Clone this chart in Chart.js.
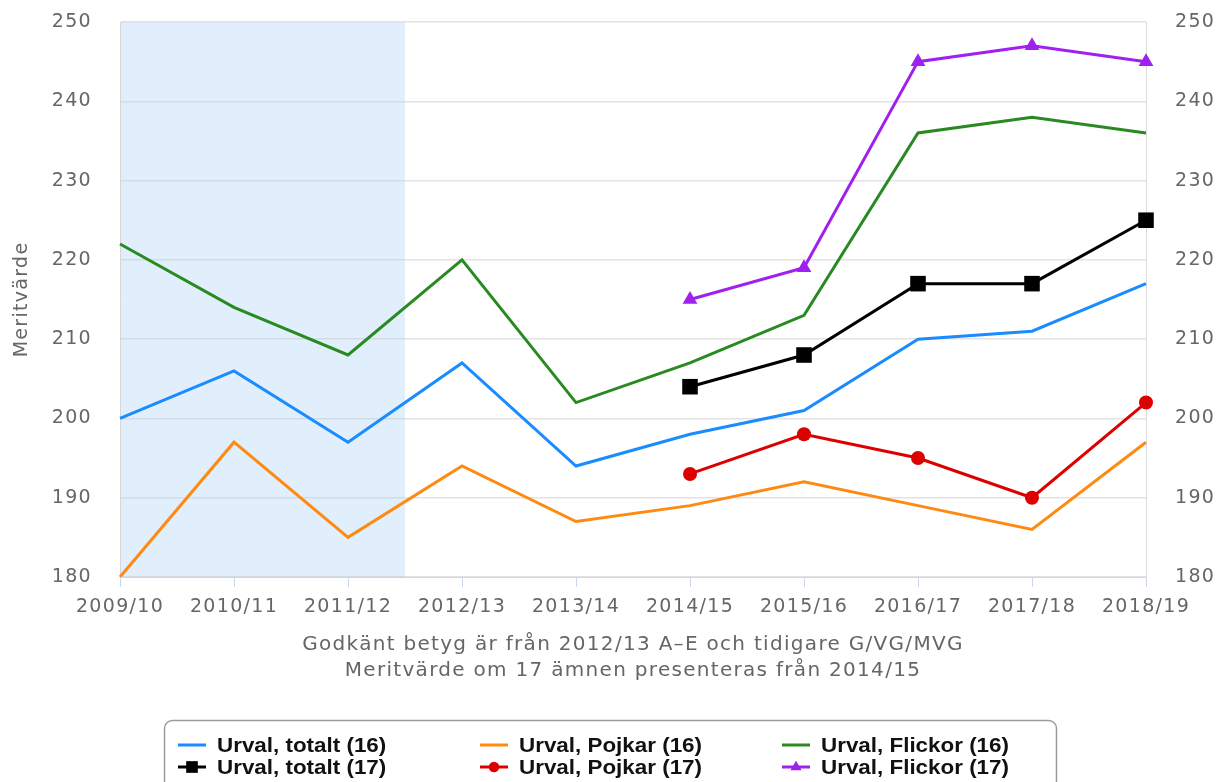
<!DOCTYPE html>
<html>
<head>
<meta charset="utf-8">
<script src="https://cdn.jsdelivr.net/npm/chart.js@4"></script>
<style>
html, body { margin: 0; padding: 0; background: #fff; }
#wrap { width: 1216px; height: 782px; overflow: hidden; }
</style>
</head>
<body>
<div id="wrap"><canvas id="meritChart" width="1216" height="782"></canvas></div>
<script>
// data
const years = ['2009/10', '2010/11', '2011/12', '2012/13', '2013/14', '2014/15', '2015/16', '2016/17', '2017/18', '2018/19'];
const totalt16 = [200, 206, 197, 207, 194, 198, 201, 210, 211, 217];
const pojkar16 = [180, 197, 185, 194, 187, 189, 192, 189, 186, 197];
const flickor16 = [222, 214, 208, 220, 202, 207, 213, 236, 238, 236];
const totalt17 = [null, null, null, null, null, 204, 208, 217, 217, 225];
const pojkar17 = [null, null, null, null, null, 193, 198, 195, 190, 202];
const flickor17 = [null, null, null, null, null, 215, 219, 245, 247, 245];
const yMin = 180, yMax = 250, yStep = 10;
const shadeFrom = 0, shadeTo = 2.5; // old grading system (category index)
const yTitle = 'Meritvärde';
const xTitle = ['Godkänt betyg är från 2012/13 A–E och tidigare G/VG/MVG', 'Meritvärde om 17 ämnen presenteras från 2014/15'];

const tickFont = { family: 'DejaVu Sans', size: 19 };
const spacing = '1.3px';

// wider letter spacing for axis texts
const spacingPlugin = {
    id: 'spacing',
    beforeLayout(chart) { chart.ctx.letterSpacing = spacing; },
    beforeDraw(chart) { chart.ctx.letterSpacing = spacing; }
};

// light blue band behind the old years
const bandPlugin = {
    id: 'band',
    beforeDraw(chart) {
        const x = chart.scales.x, a = chart.chartArea, ctx = chart.ctx;
        const step = x.getPixelForValue(1) - x.getPixelForValue(0);
        const x0 = x.getPixelForValue(0) + shadeFrom * step;
        const x1 = x.getPixelForValue(0) + shadeTo * step;
        ctx.save();
        ctx.fillStyle = '#e1effc';
        ctx.fillRect(x0, a.top, x1 - x0, a.bottom - a.top);
        ctx.restore();
    }
};

function drawMarker(ctx, style, r, x, y) {
    ctx.beginPath();
    if (style === 'rect') {
        const s = r * Math.SQRT1_2;
        ctx.rect(x - s, y - s, 2 * s, 2 * s);
    } else if (style === 'triangle') {
        for (let k = 0; k < 3; k++) {
            const ang = k * 2 * Math.PI / 3;
            const px = x + Math.sin(ang) * r, py = y - Math.cos(ang) * r;
            if (k == 0) ctx.moveTo(px, py); else ctx.lineTo(px, py);
        }
        ctx.closePath();
    } else {
        ctx.arc(x, y, r, 0, Math.PI * 2);
    }
    ctx.fill();
}

// legend box at the bottom, 3 columns x 2 rows
const legendPlugin = {
    id: 'boxLegend',
    afterDraw(chart) {
        const ctx = chart.ctx;
        const colX = [178, 480, 782];
        const rowY = [745, 767];
        ctx.save();
        ctx.letterSpacing = '0px';
        ctx.strokeStyle = '#9a9a9a';
        ctx.lineWidth = 1.5;
        ctx.beginPath();
        ctx.roundRect(164.5, 720.5, 892, 80, 8);
        ctx.stroke();
        chart.data.datasets.forEach(function(ds, i) {
            const x = colX[i % 3], y = rowY[Math.floor(i / 3)];
            ctx.strokeStyle = ds.borderColor;
            ctx.fillStyle = ds.borderColor;
            ctx.lineWidth = 3;
            ctx.beginPath();
            ctx.moveTo(x, y);
            ctx.lineTo(x + 28, y);
            ctx.stroke();
            if (ds.pointRadius > 0) drawMarker(ctx, ds.pointStyle, ds.pointRadius * 0.75, x + 14, y);
            ctx.fillStyle = '#111';
            ctx.font = 'bold 20px "Liberation Sans"';
            ctx.textBaseline = 'middle';
            ctx.save();
            ctx.translate(x + 39, y);
            ctx.scale(1.12, 1);
            ctx.fillText(ds.label, 0, 1);
            ctx.restore();
        });
        ctx.restore();
    }
};

function lineSet(label, data, color, style, radius) {
    return {
        label: label,
        data: data,
        borderColor: color,
        backgroundColor: color,
        borderWidth: 3,
        pointStyle: style,
        pointRadius: radius,
        pointHoverRadius: radius,
        pointBorderWidth: 0,
        tension: 0,
        spanGaps: false
    };
}

const config = {
    type: 'line',
    data: {
        labels: years,
        datasets: [
            lineSet('Urval, totalt (16)', totalt16, '#1a8cff', 'circle', 0),
            lineSet('Urval, Pojkar (16)', pojkar16, '#ff8a12', 'circle', 0),
            lineSet('Urval, Flickor (16)', flickor16, '#2a8a22', 'circle', 0),
            lineSet('Urval, totalt (17)', totalt17, '#000000', 'rect', 11),
            lineSet('Urval, Pojkar (17)', pojkar17, '#dd0000', 'circle', 7),
            lineSet('Urval, Flickor (17)', flickor17, '#a020f0', 'triangle', 8.5)
        ]
    },
    options: {
        responsive: false,
        animation: false,
        devicePixelRatio: 1,
        layout: { padding: { left: 0, right: 0, top: 22, bottom: 98 } },
        plugins: {
            legend: { display: false },
            tooltip: { enabled: false }
        },
        scales: {
            x: {
                type: 'category',
                offset: false,
                afterFit(scale) { scale.height = 107; },
                grid: { drawOnChartArea: false, color: '#ccd6eb', tickLength: 10 },
                border: { color: '#ccd6eb', width: 1 },
                ticks: { color: '#666', font: tickFont, padding: 9, maxRotation: 0, autoSkip: false },
                title: { display: true, text: xTitle, color: '#666', font: { family: 'DejaVu Sans', size: 20, lineHeight: 1.3 }, padding: { top: 10, bottom: 0 } }
            },
            y: {
                position: 'left',
                min: yMin, max: yMax,
                afterFit(scale) { scale.width = 120; scale.paddingTop = 0; scale.paddingBottom = 0; },
                grid: { color: 'rgba(200,200,200,0.5)', drawTicks: false, lineWidth: 1.5 },
                border: { display: true, color: '#d6d6d6' },
                ticks: { stepSize: yStep, color: '#666', font: tickFont, padding: 28 },
                title: { display: true, text: yTitle, color: '#666', font: { family: 'DejaVu Sans', size: 19 }, padding: { top: 11, bottom: 0 } }
            },
            y2: {
                position: 'right',
                min: yMin, max: yMax,
                afterFit(scale) { scale.width = 70; scale.paddingTop = 0; scale.paddingBottom = 0; },
                grid: { drawOnChartArea: false, drawTicks: false },
                border: { display: true, color: '#dcdcdc' },
                ticks: { stepSize: yStep, color: '#666', font: tickFont, padding: 29 }
            }
        }
    },
    plugins: [spacingPlugin, bandPlugin, legendPlugin]
};

const meritChart = new Chart(document.getElementById('meritChart'), config);
</script>
</body>
</html>
